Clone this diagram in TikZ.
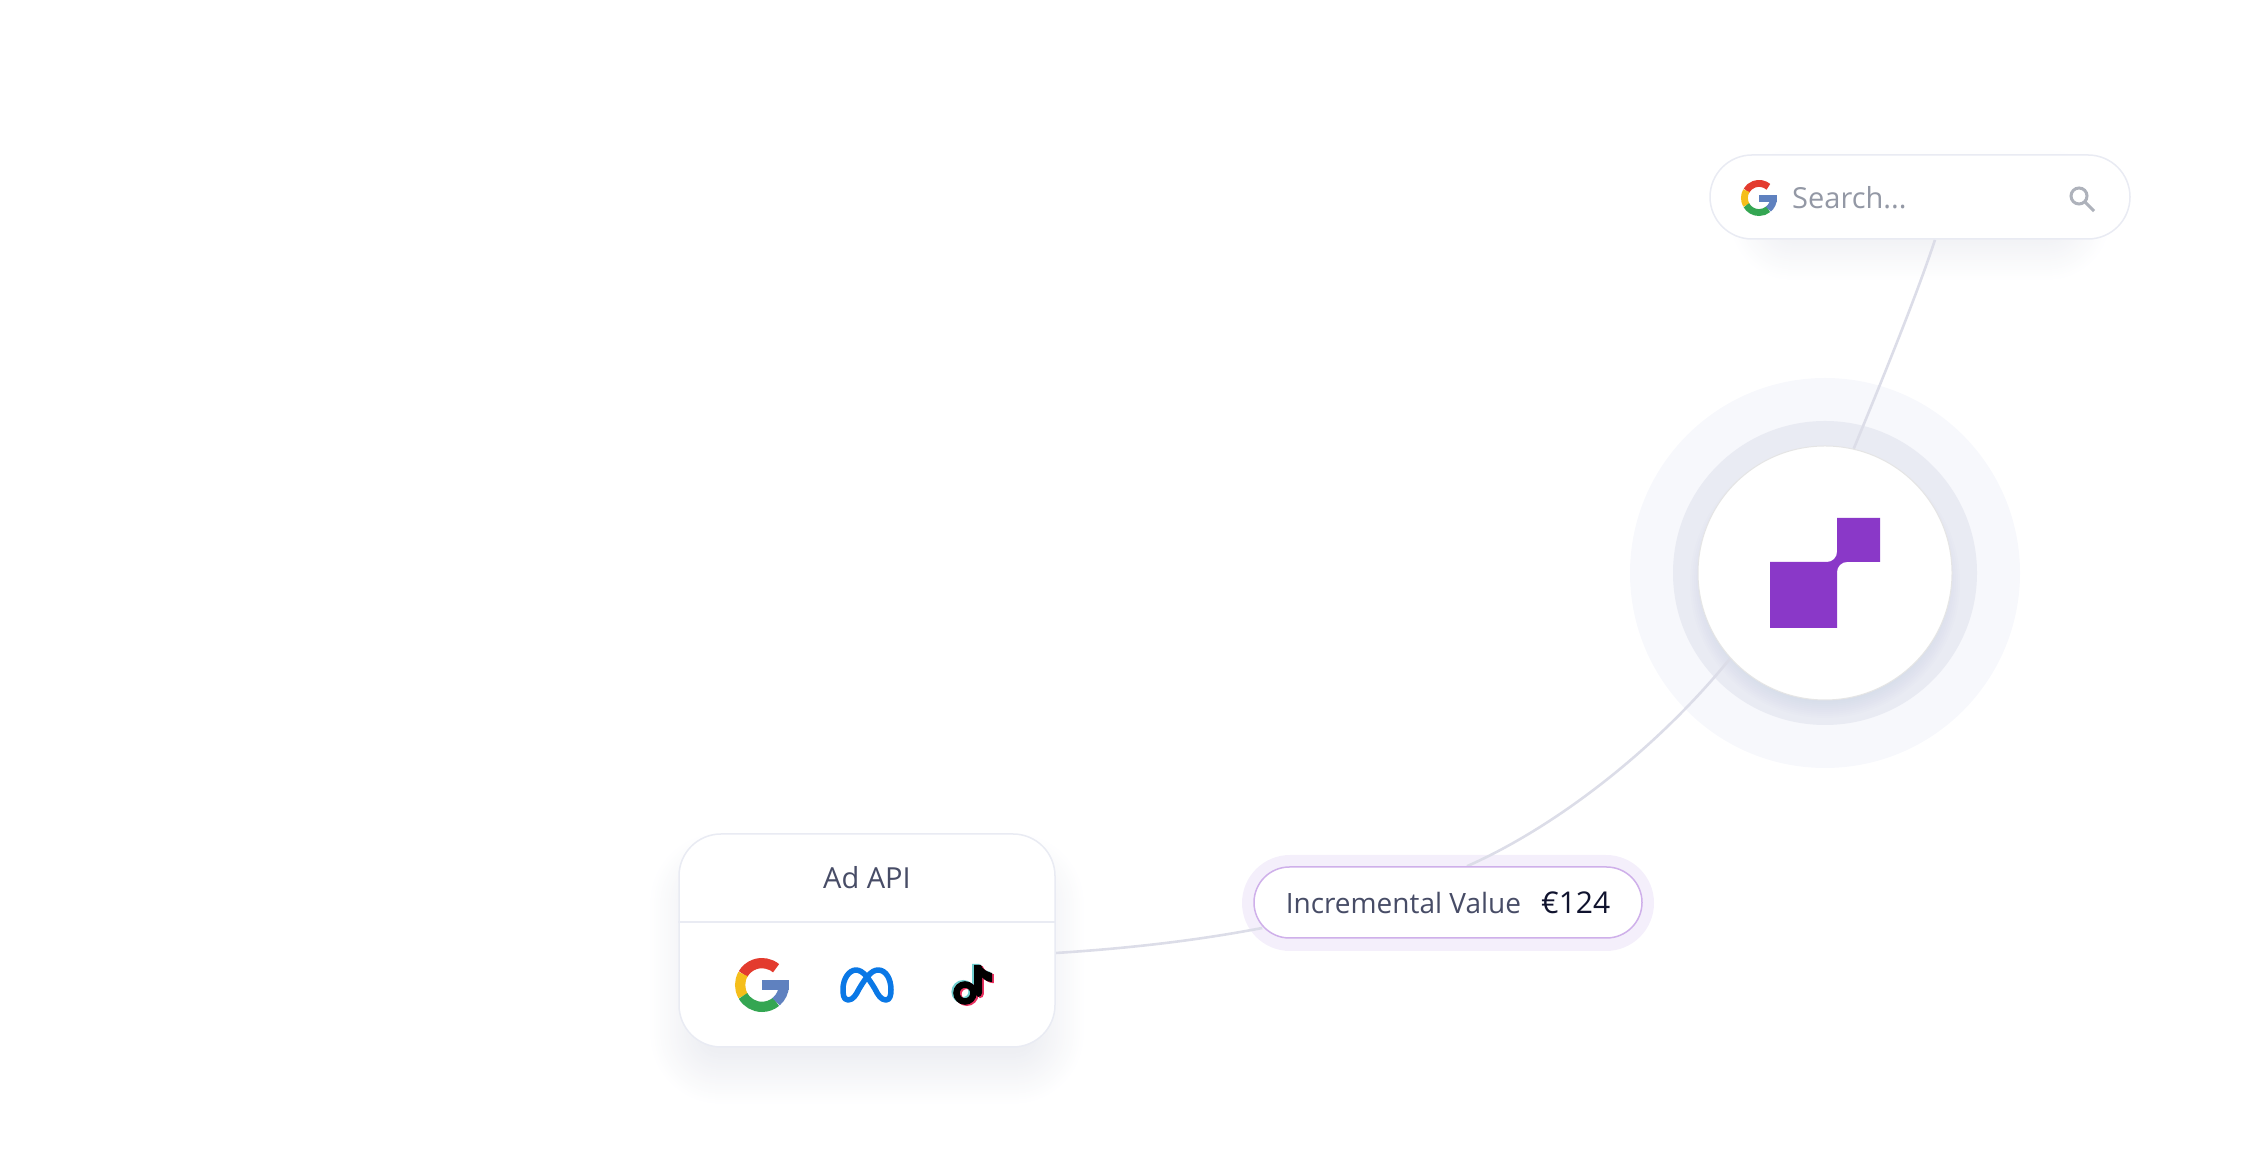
\documentclass[tikz,border=0pt]{standalone}
\usepackage{fontspec}
\setmainfont{Open Sans}
\usetikzlibrary{backgrounds,shapes.misc}
\definecolor{inktxt}{HTML}{474C66}
\definecolor{inkdark}{HTML}{10132E}
\definecolor{inkgrey}{HTML}{9398A5}
\definecolor{linkcol}{HTML}{DCDDE8}
\definecolor{edgecol}{HTML}{E9EBF3}
\definecolor{ringmid}{HTML}{E9EBF3}
\definecolor{ringout}{HTML}{F7F8FC}
\definecolor{pillhalo}{HTML}{F4EFFB}
\definecolor{pilledge}{HTML}{CFB0EA}
\definecolor{logocol}{HTML}{8A38C8}
\definecolor{shadecol}{HTML}{5A648C}
\definecolor{gred}{HTML}{E33B2E}
\definecolor{gyellow}{HTML}{F5BE1B}
\definecolor{ggreen}{HTML}{34A652}
\definecolor{gblue}{HTML}{5F81BF}
\definecolor{metablue}{HTML}{0A78E6}
\definecolor{ttcyan}{HTML}{6FCFD0}
\definecolor{ttpink}{HTML}{E8305F}
\tikzset{
  card/.style={draw=edgecol, line width=1.5pt, fill=white, rectangle, rounded corners=42pt, minimum width=376pt, minimum height=213pt, inner sep=0pt},
  searchbar/.style={draw=edgecol, line width=1.5pt, fill=white, rounded rectangle, minimum width=420pt, minimum height=84pt, inner sep=0pt},
  valuepill/.style={draw=pilledge, line width=1.5pt, fill=white, rounded rectangle, minimum width=388pt, minimum height=71pt, inner sep=0pt, text=inktxt, font=\fontsize{28}{30}\selectfont},
  pillglow/.style={fill=pillhalo, rounded rectangle, minimum width=412pt, minimum height=96pt, inner sep=0pt},
  corenode/.style={draw=black!10, line width=1pt, fill=white, circle, minimum size=254pt, inner sep=0pt},
  ring/.style={circle, inner sep=0pt, minimum size=#1},
  shade/.style={fill=shadecol, opacity=0.0045},
  link/.style={draw=linkcol, line width=2.6pt},
  cardlbl/.style={text=inktxt, font=\fontsize{29}{30}\selectfont, inner sep=0pt},
  hintlbl/.style={text=inkgrey, font=\fontsize{29}{30}\selectfont, inner sep=0pt},
  gmark/.pic={
    \draw[gred, line width=0.38*#1] (50:0.81*#1) arc[start angle=50, end angle=150, radius=0.81*#1];
    \draw[gyellow, line width=0.38*#1] (150:0.81*#1) arc[start angle=150, end angle=210, radius=0.81*#1];
    \draw[ggreen, line width=0.38*#1] (210:0.81*#1) arc[start angle=210, end angle=310, radius=0.81*#1];
    \draw[gblue, line width=0.38*#1] (0:0.81*#1) arc[start angle=0, end angle=-50, radius=0.81*#1];
    \fill[gblue] (0,0.19*#1) rectangle (0.99*#1,-0.2*#1);
  },
  metamark/.pic={
    \draw[metablue, line width=5.5pt, line join=round] (-19,-15) .. controls (-24,-15) and (-24,-8) .. (-24,-4)
      .. controls (-24,6) and (-18,15) .. (-11,15) .. controls (-4,15) and (2,6) .. (8,-4)
      .. controls (11,-10) and (14,-15) .. (19,-15) .. controls (23,-15) and (24,-10) .. (24,-5)
      .. controls (24,6) and (19,15) .. (11,15) .. controls (4,15) and (-2,6) .. (-8,-4)
      .. controls (-11,-10) and (-14,-15) .. (-19,-15) -- cycle;
  },
  tikmark/.pic={
    \foreach \tcol/\tdx/\tdy in {ttcyan/-1.8/1.2, ttpink/1.8/-1.2, black/0/0}{
      \begin{scope}[shift={(\tdx,\tdy)}]
        \draw[\tcol, line width=6.5pt] (-8,-8) circle[radius=8.5];
        \fill[\tcol] (1,20) -- (8,20) .. controls (9,16) and (14,13) .. (19,12) -- (19,3)
          .. controls (15,3) and (11,5) .. (9,8) -- (9,-8) arc[start angle=0, end angle=-90, radius=4] -- (1,-8) -- cycle;
      \end{scope}
    }
  },
}
\begin{document}
\begin{tikzpicture}[x=1pt, y=1pt]
\useasboundingbox (0,0) rectangle (2244,1155);
% nodes
\node[card] (api) at (867,214.5) {};
\node[searchbar] (search) at (1920,958) {};
\node[corenode] (core) at (1825,582) {};
\node[valuepill] (pill) at (1448,252.5) {Incremental Value\hspace{20pt}\textcolor{inkdark}{\fontsize{30}{30}\selectfont €124}};
\draw[edgecol, line width=1.2pt] (api.west |- 0,233) -- (api.east |- 0,233);
\node[cardlbl] (apilbl) at (867,277) {Ad API};
\node[hintlbl, anchor=west] (hint) at (1792,957) {Search...};
% halos, shadows and connectors go under the nodes
\begin{pgfonlayer}{background}
\node[ring=390pt, fill=ringout] (coreout) at (core) {};
\node[ring=304pt, fill=ringmid] (coremid) at (core) {};
\node[pillglow] (glow) at (1448,252) {};
\foreach \g [evaluate=\g as \rr using 42+\g] in {-24,-22,...,28}{
  \fill[shade, rounded corners=\rr pt] ([shift={(-\g,-\g-28)}]api.south west) rectangle ([shift={(\g,\g-28)}]api.north east);
}
\foreach \g [evaluate=\g as \rr using 42+\g*0.9] in {-16,-14,...,22}{
  \fill[shade, rounded corners=\rr pt] ([shift={(-\g,-\g-18)}]search.south west) rectangle ([shift={(\g,\g-18)}]search.north east);
}
\foreach \g in {-12,-10,...,8}{
  \fill[shade, opacity=0.006] ([yshift=-10pt]core.center) circle[radius=127+\g];
}
\draw[link] ([xshift=15pt]search.south) .. controls (1915,855) and (1880,770) .. (core.77.6);
\draw[link] ([yshift=-12.5pt]api.east) .. controls (1150,208) and (1215,218) .. ([xshift=9pt,yshift=-25.5pt]pill.west);
\draw[link] ([xshift=19pt]pill.north) .. controls (1560,330) and (1660,410) .. (core.222);
\end{pgfonlayer}
% logo
\fill[logocol] (1770,527) -- (1837,527) -- (1837,583) arc[start angle=180, end angle=90, radius=10] -- (1880,593) -- (1880,637) -- (1837,637) -- (1837,603) arc[start angle=0, end angle=-90, radius=10] -- (1770,593) -- cycle;
% icons
\pic at (762,170) {gmark=27};
\pic at (867,170) {metamark};
\pic at (973,170) {tikmark};
\pic at (1759,957) {gmark=18};
\draw[inkgrey!75, line width=3pt] (2079,959) circle[radius=8] (2085,953) -- (2094,944);
\end{tikzpicture}
\end{document}
